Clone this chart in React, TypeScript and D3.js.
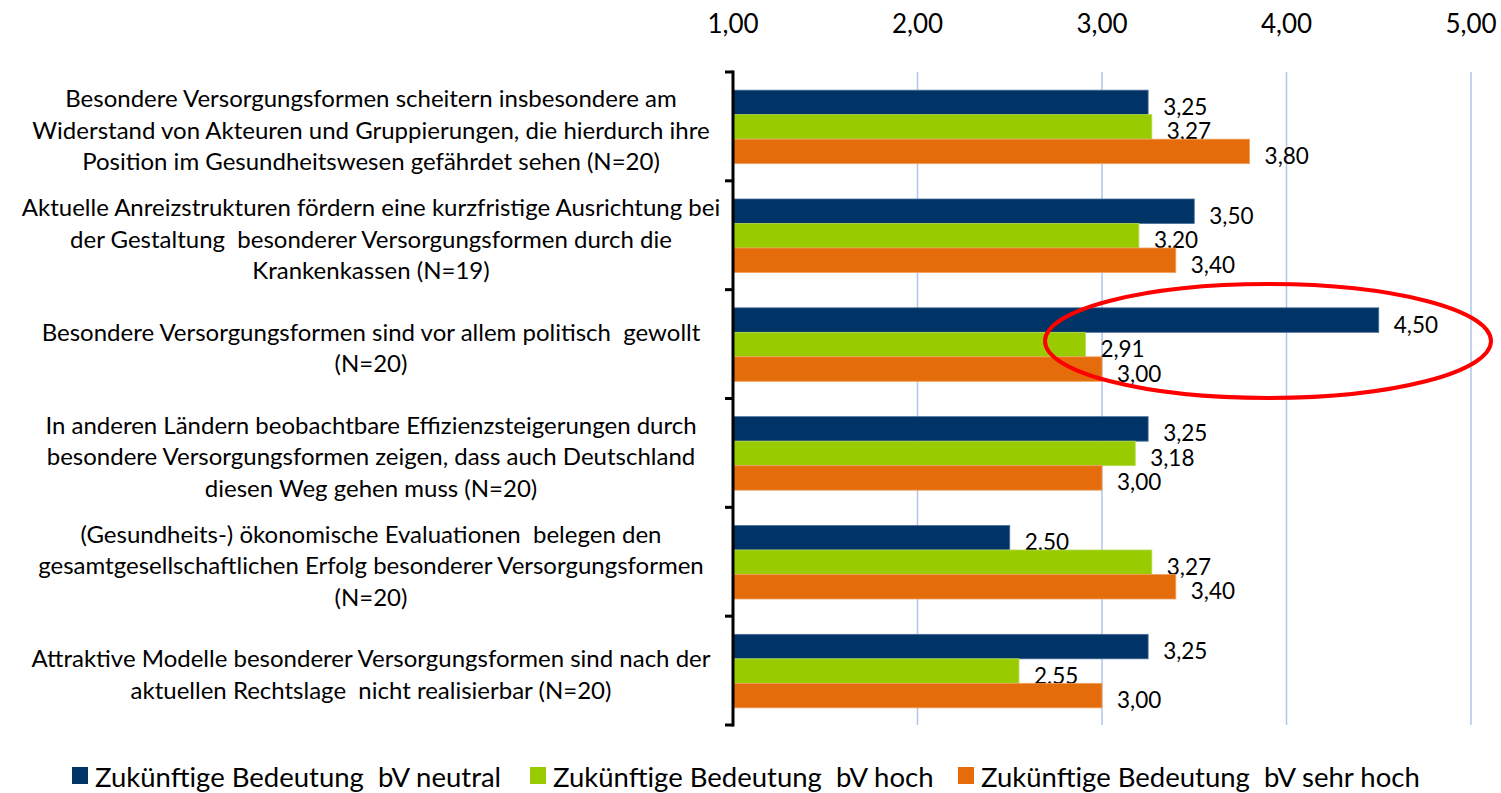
import { useRef, useEffect } from "react";
import * as d3 from "d3";

// Statements (wrapped the way the original labels wrap)
const categories: string[][] = [
  [
    "Besondere Versorgungsformen scheitern insbesondere am",
    "Widerstand von Akteuren und Gruppierungen, die hierdurch ihre",
    "Position im Gesundheitswesen gefährdet sehen (N=20)",
  ],
  [
    "Aktuelle Anreizstrukturen fördern eine kurzfristige Ausrichtung bei",
    "der Gestaltung  besonderer Versorgungsformen durch die",
    "Krankenkassen (N=19)",
  ],
  ["Besondere Versorgungsformen sind vor allem politisch  gewollt", "(N=20)"],
  [
    "In anderen Ländern beobachtbare Effizienzsteigerungen durch",
    "besondere Versorgungsformen zeigen, dass auch Deutschland",
    "diesen Weg gehen muss (N=20)",
  ],
  [
    "(Gesundheits-) ökonomische Evaluationen  belegen den",
    "gesamtgesellschaftlichen Erfolg besonderer Versorgungsformen",
    "(N=20)",
  ],
  [
    "Attraktive Modelle besonderer Versorgungsformen sind nach der",
    "aktuellen Rechtslage  nicht realisierbar (N=20)",
  ],
];

const seriesNames = [
  "Zukünftige Bedeutung  bV neutral",
  "Zukünftige Bedeutung  bV hoch",
  "Zukünftige Bedeutung  bV sehr hoch",
];
const neutral = [3.25, 3.5, 4.5, 3.25, 2.5, 3.25];
const hoch = [3.27, 3.2, 2.91, 3.18, 3.27, 2.55];
const sehrHoch = [3.8, 3.4, 3.0, 3.0, 3.4, 3.0];
const xTicks = [1, 2, 3, 4, 5];

const colors = ["#003366", "#99CC00", "#E46C0A"];
const strokes = ["#4A6F9A", "#B5D94D", "#F0A060"];

const fmt = (v: number) => v.toFixed(2).replace(".", ",");

export default function App() {
  const svgRef = useRef<SVGSVGElement>(null);
  const width = 1501;
  const height = 793;

  useEffect(() => {
    if (!svgRef.current) return;
    const svg = d3.select(svgRef.current);
    svg.selectAll("*").remove();

    const left = 733;
    const right = 1471;
    const top = 72;
    const bottom = 725;
    const font = "Lato, 'Open Sans', sans-serif";

    const x = d3.scaleLinear().domain([1, 5]).range([left, right]);
    const y0 = d3
      .scaleBand<number>()
      .domain(categories.map((_, i) => i))
      .range([top, bottom]);
    const groupH = 73.5;
    const y1 = d3.scaleBand<number>().domain([0, 1, 2]).range([0, groupH]);
    const groupOffset = (y0.bandwidth() - groupH) / 2 + 0.5;

    // Grid lines
    svg
      .append("g")
      .selectAll("line")
      .data(xTicks.filter((t) => t > 1))
      .enter()
      .append("line")
      .attr("x1", (d) => x(d))
      .attr("x2", (d) => x(d))
      .attr("y1", top)
      .attr("y2", bottom)
      .attr("stroke", "#AFC6E9")
      .attr("stroke-width", 1.5);

    // Top tick labels
    svg
      .append("g")
      .selectAll("text")
      .data(xTicks)
      .enter()
      .append("text")
      .attr("x", (d) => x(d))
      .attr("y", 33)
      .attr("text-anchor", "middle")
      .attr("font-family", font)
      .attr("font-size", "26px")
      .attr("fill", "#000")
      .text((d) => fmt(d));

    // Bars
    const series = [neutral, hoch, sehrHoch];
    series.forEach((vals, si) => {
      const g = svg.append("g");
      g.selectAll("rect")
        .data(vals)
        .enter()
        .append("rect")
        .attr("x", left)
        .attr("y", (_, i) => (y0(i) as number) + groupOffset + (y1(si) as number))
        .attr("width", (d) => x(d) - left)
        .attr("height", y1.bandwidth())
        .attr("fill", colors[si])
        .attr("stroke", strokes[si])
        .attr("stroke-width", 0.8);

      g.selectAll("text")
        .data(vals)
        .enter()
        .append("text")
        .attr("x", (d) => x(d) + 15)
        .attr(
          "y",
          (_, i) => (y0(i) as number) + groupOffset + (y1(si) as number) + y1.bandwidth() / 2 + 4
        )
        .attr("dominant-baseline", "central")
        .attr("font-family", font)
        .attr("font-size", "22.5px")
        .attr("fill", "#000")
        .text((d) => fmt(d));
    });

    // Vertical axis with tick marks at category boundaries
    svg
      .append("line")
      .attr("x1", left)
      .attr("x2", left)
      .attr("y1", top - 1.5)
      .attr("y2", bottom + 1.5)
      .attr("stroke", "#000")
      .attr("stroke-width", 3);

    const bounds = categories.map((_, i) => y0(i) as number).concat([bottom]);
    svg
      .append("g")
      .selectAll("line")
      .data(bounds)
      .enter()
      .append("line")
      .attr("x1", left - 8)
      .attr("x2", left)
      .attr("y1", (d) => d)
      .attr("y2", (d) => d)
      .attr("stroke", "#000")
      .attr("stroke-width", 3);

    // Category labels
    const lineH = 31.5;
    const labels = svg
      .append("g")
      .selectAll("text")
      .data(categories)
      .enter()
      .append("text")
      .attr("text-anchor", "middle")
      .attr("font-family", font)
      .attr("font-size", "24px")
      .attr("fill", "#000")
      .style("white-space", "pre");

    labels.each(function (lines, i) {
      const cy = (y0(i) as number) + y0.bandwidth() / 2 + 3;
      const startY = cy - ((lines.length - 1) * lineH) / 2;
      d3.select(this)
        .selectAll("tspan")
        .data(lines)
        .enter()
        .append("tspan")
        .attr("x", 371)
        .attr("y", (_, j) => startY + j * lineH)
        .attr("dominant-baseline", "central")
        .text((d) => d);
    });

    // Highlight ellipse
    svg
      .append("ellipse")
      .attr("cx", 1268)
      .attr("cy", 341)
      .attr("rx", 223)
      .attr("ry", 57)
      .attr("fill", "none")
      .attr("stroke", "#FF0000")
      .attr("stroke-width", 4);

    // Legend
    const legendX = [72, 530, 958];
    const legend = svg
      .append("g")
      .selectAll("g")
      .data(seriesNames)
      .enter()
      .append("g")
      .attr("transform", (_, i) => `translate(${legendX[i]},767)`);

    legend
      .append("rect")
      .attr("width", 16)
      .attr("height", 17)
      .attr("fill", (_, i) => colors[i]);

    legend
      .append("text")
      .attr("x", 23)
      .attr("y", 9)
      .attr("dominant-baseline", "central")
      .attr("font-family", font)
      .attr("font-size", "27.5px")
      .attr("fill", "#000")
      .style("white-space", "pre")
      .text((d) => d);
  }, []);

  return (
    <svg
      ref={svgRef}
      width={width}
      height={height}
      style={{ position: "absolute", left: 0, top: 0, background: "#fff" }}
    />
  );
}
